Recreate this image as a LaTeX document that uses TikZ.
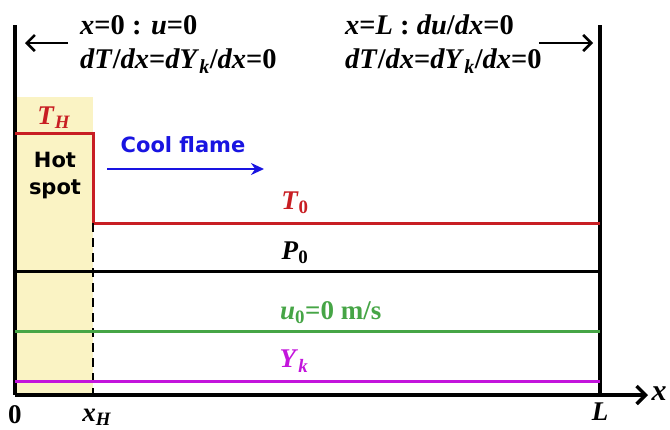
\documentclass[tikz,border=0pt]{standalone}
\usepackage{fontspec}
\setmainfont{Liberation Serif}
\newfontfamily\tagfont{DejaVu Sans}
\usetikzlibrary{positioning}
\usetikzlibrary{arrows.meta}
\definecolor{hotred}{RGB}{200,30,35}
\definecolor{spotfill}{RGB}{250,243,196}
\definecolor{flameblue}{RGB}{25,20,225}
\definecolor{ugreen}{RGB}{70,165,70}
\definecolor{ykmagenta}{RGB}{195,20,220}
\tikzset{
    x=1pt, y=-1pt,
    bc/.style={
        font=\bfseries\fontsize{28.5}{32}\selectfont,
        inner sep=0pt,
        anchor=base west
    },
    var/.style={
        font=\bfseries\fontsize{27}{30}\selectfont,
        inner sep=0pt
    },
    tag/.style={
        font=\tagfont\bfseries\fontsize{21}{27}\selectfont,
        inner sep=0pt,
        align=center
    },
    wall/.style={line width=3.4pt},
    level/.style={line width=3pt},
    bcarrow/.style={line width=2.6pt, -{Straight Barb[length=8pt,width=16pt,line width=2.6pt]}}
}

\begin{document}
\begin{tikzpicture}
    \useasboundingbox (0,0) rectangle (670,429);

    % domain
    \coordinate (o) at (15,395);
    \coordinate (xh) at (93,395);
    \coordinate (l) at (600,395);
    \fill[spotfill] (15,97) rectangle (xh);

    \draw[wall] (15,25) -- (o);
    \draw[wall] (600,25) -- (l);
    \draw[wall, -{Straight Barb[length=9pt,width=18pt,line width=3.4pt]}] (o) -- (648,395) coordinate (xend);

    % initial profiles
    \draw[level, hotred] (15,133) -- (93,133) -- (93,223) -- (600,223);
    \draw[line width=2.6pt, dash pattern=on 9pt off 6pt] (93,223) -- (93,400);
    \draw[level, black] (15,271) -- (600,271);
    \draw[level, ugreen] (15,331) -- (600,331);
    \draw[level, ykmagenta] (15,381) -- (600,381);

    % labels
    \node[var, hotred] (th) at (54,118) {\textit{T}\textsubscript{\textit{H}}};
    \node[tag] (hot) at (55,176) {Hot\\spot};
    \node[tag, flameblue] (cool) at (183,145) {Cool flame};
    \coordinate (cs) at (107,169);
    \coordinate (ce) at (264,169);
    \draw[flameblue, line width=2.8pt, -{Stealth[length=13pt,width=12pt]}] (cs) -- (ce);
    \node[var, hotred] (t0) at (295,203) {\textit{T}\textsubscript{0}};
    \node[var] (p0) at (295,253) {\textit{P}\textsubscript{0}};
    \node[var, ugreen, anchor=west] (u0) at (280,313) {\textit{u}\textsubscript{0}=0 m/s};
    \node[var, ykmagenta] (yk) at (294,361) {\textit{Y}\textsubscript{\textit{k}}};

    % axis ticks
    \node[var] (zero) at (15,415) {0};
    \node[var] (xhl) at (97,417) {\textit{x}\textsubscript{\textit{H}}};
    \node[var] (ll) at (600,412) {\textit{L}};
    \node[var, font=\bfseries\itshape\fontsize{30}{32}\selectfont] (xl) at (659,394) {x};

    % boundary conditions
    \node[bc] (bcl1) at (80,34) {\textit{x}=0 : \textit{u}=0};
    \node[bc] (bcl2) at (80,68) {\textit{dT}/\textit{dx}=\textit{dY}\textsubscript{\textit{k}}/\textit{dx}=0};
    \node[bc] (bcr1) at (345,34) {\textit{x}=\textit{L} : \textit{du}/\textit{dx}=0};
    \node[bc] (bcr2) at (345,68) {\textit{dT}/\textit{dx}=\textit{dY}\textsubscript{\textit{k}}/\textit{dx}=0};
    \coordinate (wl) at (25,43);
    \coordinate (wr) at (593,43);
    \draw[bcarrow] (bcl2.west |- wl) ++(-12,0) -- (wl);
    \draw[bcarrow] (bcr2.east |- wr) ++(-3,0) -- (wr);
\end{tikzpicture}
\end{document}
